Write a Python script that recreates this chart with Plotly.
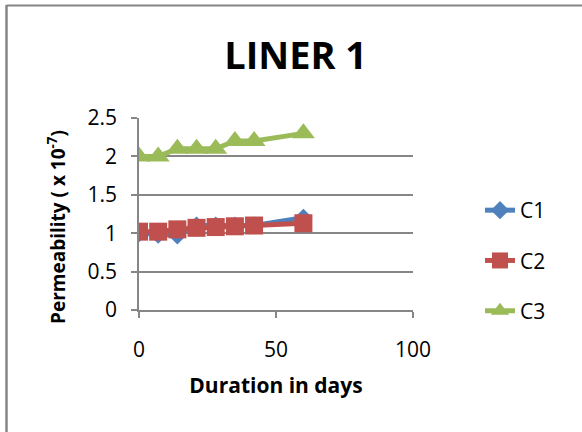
import plotly.graph_objects as go

days = [0, 7, 14, 21, 28, 35, 42, 60]
c1 = [1.0, 0.98, 0.97, 1.1, 1.1, 1.1, 1.1, 1.2]
c2 = [1.02, 1.02, 1.05, 1.07, 1.08, 1.09, 1.1, 1.13]
c3 = [2.0, 2.0, 2.1, 2.1, 2.1, 2.2, 2.2, 2.3]
names = ["C1", "C2", "C3"]
colors = ["#4F81BD", "#C0504D", "#9BBB59"]
symbols = ["diamond", "square", "triangle-up"]
sizes = [14, 18, 20]

W, H = 582, 432
ML, MR, MT, MB = 139, 169, 118, 122
pw, ph = W - ML - MR, H - MT - MB

fig = go.Figure()
for name, vals, col, sym, sz in zip(names, [c1, c2, c3], colors, symbols, sizes):
    fig.add_trace(go.Scatter(
        x=days, y=vals, name=name, mode="lines+markers", legendgroup=name,
        line=dict(color=col, width=5),
        marker=dict(symbol=sym, size=sz, color=col),
    ))

grid = "#868686"
font = "Open Sans"


def px_x(p):
    return (p - ML) / pw


def px_y(p):
    return (MT + ph - p) / ph


fig.update_layout(
    width=W, height=H,
    margin=dict(l=ML, r=MR, t=MT, b=MB, autoexpand=False),
    paper_bgcolor="white", plot_bgcolor="white",
    font=dict(family=font, color="black", size=21),
    title=dict(text="<b>LINER 1</b>", x=0.508, xanchor="center", y=1 - 56 / H, yanchor="middle",
               font=dict(family=font, size=38, color="black")),
    showlegend=True,
    legend=dict(x=px_x(480), xanchor="left", y=px_y(260.5), yanchor="middle",
                font=dict(family=font, size=21, color="black"), tracegroupgap=20,
                bgcolor="rgba(0,0,0,0)"),
    xaxis=dict(range=[0, 100], tickvals=[0, 50, 100], showgrid=False, zeroline=False,
               showline=True, linecolor=grid, linewidth=1.5, ticks="outside", ticklen=6,
               tickcolor=grid, tickwidth=1.5, ticklabelstandoff=14, automargin=False,
               title=dict(text="<b>Duration in days</b>", font=dict(family=font, size=21), standoff=16)),
    yaxis=dict(range=[0, 2.5], tickvals=[0, 0.5, 1, 1.5, 2, 2.5], ticktext=["0", "0.5", "1", "1.5", "2", "2.5"],
               showgrid=True, gridcolor=grid, gridwidth=1.5, zeroline=False,
               showline=True, linecolor=grid, linewidth=1.5, ticks="outside", ticklen=6,
               tickcolor=grid, tickwidth=1.5, ticklabelstandoff=10, automargin=False),
)

fig.add_annotation(text="<b>Permeability ( x 10<sup>-7</sup>)</b>", xref="paper", yref="paper",
                   x=px_x(57), y=px_y(227), xanchor="center", yanchor="middle", textangle=-90,
                   showarrow=False, font=dict(family=font, size=19, color="black"))

# outer chart border (left and top edges)
fig.add_shape(type="line", xref="paper", yref="paper", x0=px_x(6.5), x1=px_x(6.5), y0=px_y(5), y1=px_y(H + 2),
              line=dict(color=grid, width=2.5))
fig.add_shape(type="line", xref="paper", yref="paper", x0=px_x(6.5), x1=px_x(W + 2), y0=px_y(5.5), y1=px_y(5.5),
              line=dict(color=grid, width=2))

fig.write_html("out.html")
